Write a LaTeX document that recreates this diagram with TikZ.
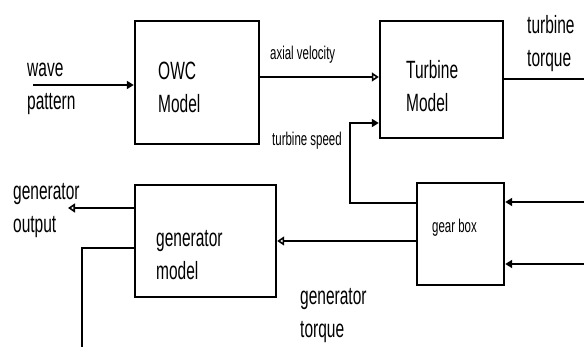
\documentclass[tikz,border=0pt]{standalone}
\usepackage{fontspec}
\setmainfont{Liberation Sans}[FakeStretch=0.62]
\usepackage{tikz}
\usetikzlibrary{arrows.meta,calc}

\begin{document}
\begin{tikzpicture}[x=1pt, y=-1pt,
    block/.style={draw, rectangle, line width=2.4pt, inner sep=0pt},
    lbl/.style={anchor=base west, inner sep=0pt, align=left, font=\fontsize{25}{33}\selectfont},
    small/.style={anchor=base west, inner sep=0pt, font=\fontsize{18.5}{21}\selectfont},
    link/.style={line width=2pt},
    fullarrow/.style={link, -{Triangle[length=7pt, width=8pt]}},
    openarrow/.style={link, -{Triangle[open, length=7pt, width=9pt, line width=1.6pt]}}]
    \useasboundingbox (0,0) rectangle (584,347);

    % blocks
    \node [block, minimum width=124pt, minimum height=123pt] (owc) at (197,82.5) {};
    \node [block, minimum width=123pt, minimum height=117pt] (turb) at (441.5,79.5) {};
    \node [block, minimum width=141pt, minimum height=112pt] (gen) at (205.5,241) {};
    \node [block, minimum width=87pt, minimum height=102pt] (gear) at (460.5,234) {};

    % block texts
    \node [lbl] (owctxt) at (158,113) {OWC\\Model};
    \node [lbl] (turbtxt) at (406,112) {Turbine\\Model};
    \node [lbl] (gentxt) at (156,280) {generator\\model};
    \node [small] (geartxt) at (432,233) {gear box};

    % free ends
    \coordinate (wavein) at (33,85);
    \coordinate (axial) at (259,77);
    \coordinate (tqout) at (584,79);
    \coordinate (spd) at (350,123);
    \coordinate (in1) at (584,202);
    \coordinate (in2) at (584,264);
    \coordinate (gout) at (68,208);
    \coordinate (gfb) at (82,347);

    % connectors
    \draw [fullarrow] (wavein) -- (wavein -| owc.west);
    \draw [openarrow] (axial) -- (axial -| turb.west);
    \draw [link] (tqout -| turb.east) -- (tqout);
    \draw [fullarrow] ($(gear.west)+(0,-31)$) -| (spd) -- (spd -| turb.west);
    \draw [fullarrow] (in1) -- (in1 -| gear.east);
    \draw [fullarrow] (in2) -- (in2 -| gear.east);
    \draw [openarrow] (gear.west |- gen.east) -- (gen.east);
    \draw [openarrow] (gout -| gen.west) -- (gout);
    \draw [link] ($(gen.west)+(0,7)$) -| (gfb);

    % signal labels
    \node [lbl] (wavetxt) at (27,110) {wave\\pattern};
    \node [small] (axtxt) at (270,60) {axial velocity};
    \node [lbl] (tqtxt) at (527,67) {turbine\\torque};
    \node [small] (spdtxt) at (272,146) {turbine speed};
    \node [lbl] (gouttxt) at (13,233) {generator\\output};
    \node [lbl] (gttxt) at (300,338) {generator\\torque};
\end{tikzpicture}
\end{document}
